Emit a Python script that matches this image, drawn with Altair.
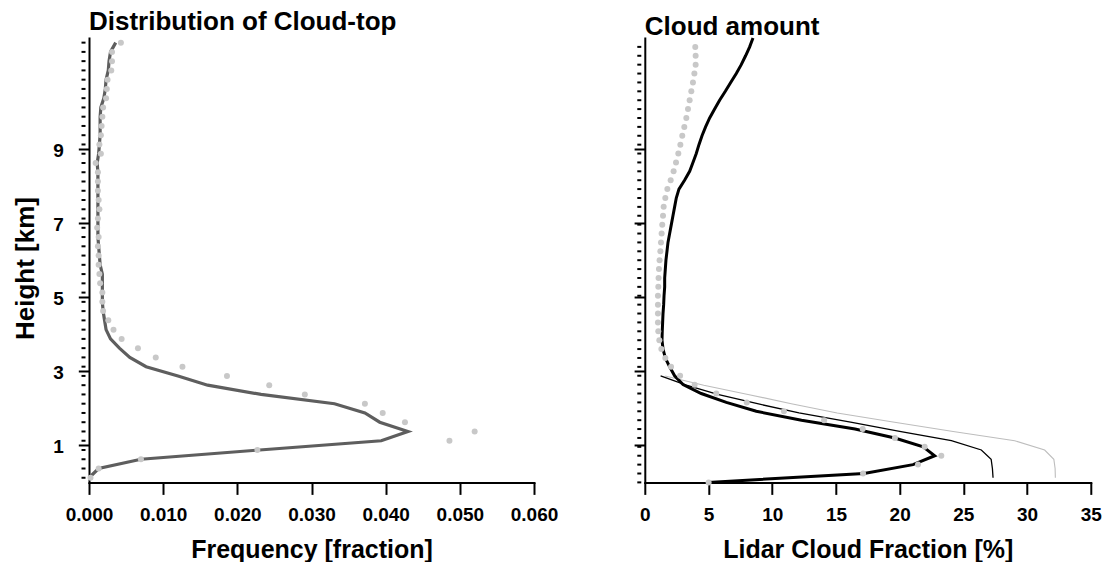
import altair as alt
import pandas as pd

FONT = "Liberation Sans"

# ---------------- data ----------------
TITLE_LEFT = ["Distribution of Cloud-top"]
TITLE_RIGHT = ["Cloud amount"]

# Left panel: model levels (km), 0.25 km spacing
LEFT_LEVELS = [round(0.125 + 0.25 * k, 3) for k in range(48)]
LEFT_LINE = [0.0000, 0.0013, 0.0070, 0.0230, 0.0394, 0.0430, 0.0392, 0.0372,
             0.0331, 0.0232, 0.0160, 0.0120, 0.0077, 0.0055, 0.0041, 0.0029,
             0.0023, 0.0021, 0.0019, 0.0018, 0.0018, 0.0018, 0.0018, 0.0015,
             0.0014, 0.0013, 0.0012, 0.0012, 0.0012, 0.0012, 0.0012, 0.0012,
             0.0012, 0.0012, 0.0011, 0.0013, 0.0014, 0.0015, 0.0015, 0.0015,
             0.0016, 0.0020, 0.0022, 0.0023, 0.0026, 0.0027, 0.0029, 0.0036]
LEFT_DOTS = [0.0002, 0.0013, 0.0070, 0.0227, 0.0486, 0.0520, 0.0426, 0.0396,
             0.0372, 0.0291, 0.0243, 0.0186, 0.0126, 0.0090, 0.0066, 0.0044,
             0.0033, 0.0026, 0.0019, 0.0018, 0.0018, 0.0015, 0.0014, 0.0013,
             0.0013, 0.0012, 0.0013, 0.0011, 0.0012, 0.0014, 0.0013, 0.0012,
             0.0012, 0.0012, 0.0009, 0.0016, 0.0014, 0.0016, 0.0017, 0.0018,
             0.0019, 0.0023, 0.0024, 0.0025, 0.0030, 0.0031, 0.0031, 0.0043]

# Right panel: lidar levels (km), 0.24 km spacing
RIGHT_LEVELS = [round(0.24 * k, 2) for k in range(51)]
RIGHT_THICK = [4.96, 17.20, 21.05, 22.75, 21.85, 19.62, 16.50, 12.30, 8.75, 6.40,
               4.43, 3.00, 2.34, 1.95, 1.61, 1.43, 1.35, 1.37, 1.40, 1.43,
               1.48, 1.51, 1.56, 1.56, 1.61, 1.66, 1.74, 1.82, 1.95, 2.08,
               2.21, 2.34, 2.47, 2.68, 3.12, 3.52, 3.78, 4.04, 4.25, 4.49,
               4.77, 5.09, 5.48, 5.87, 6.32, 6.74, 7.18, 7.57, 7.91, 8.23, 8.49]
RIGHT_DOTS = [5.01, 17.13, 21.44, 23.27, 21.96, 19.63, 17.10, 14.07, 10.92, 8.00,
              5.61, 3.91, 2.77, 2.06, 1.61, 1.30, 1.14, 1.06, 1.03, 1.03,
              1.03, 1.03, 1.06, 1.08, 1.11, 1.16, 1.22, 1.27, 1.32, 1.37,
              1.43, 1.48, 1.61, 1.77, 2.03, 2.26, 2.45, 2.63, 2.79, 2.94,
              3.10, 3.26, 3.39, 3.52, 3.65, 3.78, 3.89, 3.99, 3.99, 3.96]
THIN_LEVELS = LEFT_LEVELS[:12]
RIGHT_THIN_BLACK = [27.33, 27.28, 27.18, 26.41, 24.06, 20.00, 16.15, 12.10,
                    8.84, 5.72, 3.26, 1.24]
RIGHT_THIN_GRAY = [32.22, 32.20, 32.10, 31.38, 29.03, 24.20, 19.60, 15.10,
                   11.50, 8.10, 4.63, 1.60]

Y_TICKS = [1, 3, 5, 7, 9]
LEFT_X_TICKS = [0.0, 0.01, 0.02, 0.03, 0.04, 0.05, 0.06]
RIGHT_X_TICKS = [0, 5, 10, 15, 20, 25, 30, 35]

# ---------------- geometry ----------------
W_L, W_R, H = 445, 446, 444.4

yscale = alt.Scale(domain=[0, 12], nice=False, zero=False)


def y_enc(show_labels):
    if show_labels:
        ax = alt.Axis(values=Y_TICKS, title="Height [km]", tickSize=10.7,
                      labelPadding=15, labelOffset=1.5, titleX=-63.5,
                      titleY=230, titleBaseline="middle", titleFontSize=26)
    else:
        ax = alt.Axis(values=Y_TICKS, title=None, labels=False, tickSize=10.7)
    return alt.Y("h:Q", scale=yscale, axis=ax)


def x_enc(domain, ticks, fmt, title):
    return alt.X("v:Q", scale=alt.Scale(domain=domain, nice=False, zero=False),
                 axis=alt.Axis(values=ticks, format=fmt, title=title,
                               tickSize=12, labelPadding=11.5, titleY=55))


def minor_ticks(levels, yy):
    return alt.Chart(pd.DataFrame({"h": levels})).mark_rule(
        color="black", strokeWidth=2).encode(
        y=yy, x=alt.value(-7.5), x2=alt.value(-3.5))


def title_text(txt, dy):
    return alt.Chart(pd.DataFrame({"t": txt})).mark_text(
        font=FONT, fontSize=26, fontWeight="bold", color="black",
        align="left", baseline="alphabetic").encode(
        text="t:N", x=alt.value(0), y=alt.value(dy))


# ---------------- left panel ----------------
xL = x_enc([0, 0.06], LEFT_X_TICKS, ".3f", "Frequency [fraction]")
yL = y_enc(True)
left_line = alt.Chart(pd.DataFrame({"h": LEFT_LEVELS, "v": LEFT_LINE})).mark_line(
    color="#5e5e5e", strokeWidth=3.2).encode(x=xL, y=yL, order="h:Q")
left_dots = alt.Chart(pd.DataFrame({"h": LEFT_LEVELS, "v": LEFT_DOTS})).mark_circle(
    color="#c8c8c8", size=36, opacity=1).encode(x=xL, y=yL)
left = alt.layer(minor_ticks(LEFT_LEVELS, yL), left_line, left_dots,
                 title_text(TITLE_LEFT, -8.3)).properties(width=W_L, height=H)

# ---------------- right panel ----------------
xR = x_enc([0, 35], RIGHT_X_TICKS, "d", "Lidar Cloud Fraction [%]")
yR = y_enc(False)
r_thick = alt.Chart(pd.DataFrame({"h": RIGHT_LEVELS, "v": RIGHT_THICK})).mark_line(
    color="black", strokeWidth=3).encode(x=xR, y=yR, order="h:Q")
r_black = alt.Chart(pd.DataFrame({"h": THIN_LEVELS, "v": RIGHT_THIN_BLACK})).mark_line(
    color="black", strokeWidth=1.3).encode(x=xR, y=yR, order="h:Q")
r_gray = alt.Chart(pd.DataFrame({"h": THIN_LEVELS, "v": RIGHT_THIN_GRAY})).mark_line(
    color="#bdbdbd", strokeWidth=1.1).encode(x=xR, y=yR, order="h:Q")
r_dots = alt.Chart(pd.DataFrame({"h": RIGHT_LEVELS[:50], "v": RIGHT_DOTS})).mark_circle(
    color="#c8c8c8", size=36, opacity=1).encode(x=xR, y=yR)
right = alt.layer(minor_ticks(RIGHT_LEVELS[:50], yR), r_gray, r_black, r_thick, r_dots,
                  title_text(TITLE_RIGHT, -3.3)).properties(width=W_R, height=H)

chart = alt.hconcat(left, right, spacing=110.8, bounds="flush").properties(
    padding={"left": 12, "top": 8, "right": 2, "bottom": 0}
).configure_axis(
    domainColor="black", domainWidth=2, tickColor="black", tickWidth=2,
    labelFont=FONT, labelFontSize=19, labelFontWeight="bold", labelColor="black",
    titleFont=FONT, titleFontSize=25, titleFontWeight="bold", titleColor="black",
    grid=False, labelFlush=False, labelOverlap=False, domainCap="square"
).configure_view(strokeWidth=0)

chart.save("out.html", embed_options={"renderer": "svg", "actions": False})
